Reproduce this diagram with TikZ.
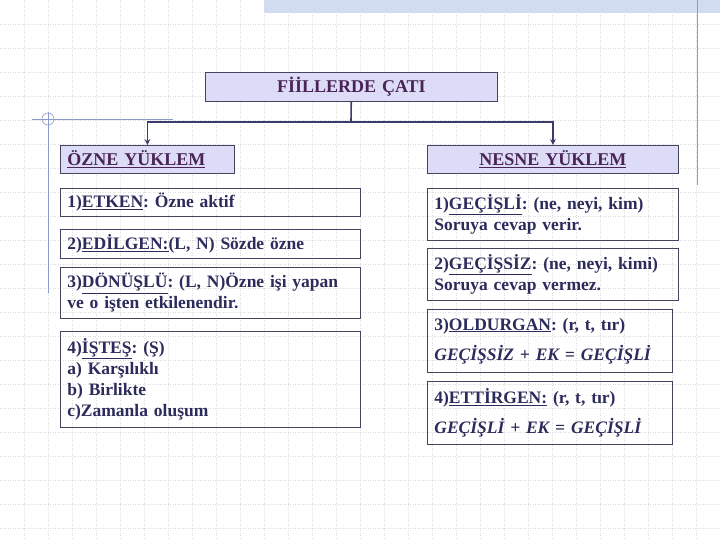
\documentclass[tikz,border=0pt]{standalone}
\usepackage{fontspec}
\setmainfont{Liberation Serif}
\usetikzlibrary{arrows, positioning, math, calc}

\definecolor{textNavy}{HTML}{2C2C5C}
\definecolor{headPurple}{HTML}{4A2456}
\definecolor{boxLine}{HTML}{44445E}
\definecolor{boxFill}{HTML}{DCDCF6}
\definecolor{linkBlue}{HTML}{3C3C6C}
\definecolor{gridGray}{HTML}{DCDCDC}
\definecolor{decoBlue}{HTML}{8C9CC8}
\definecolor{bandBlue}{HTML}{D2DCF0}

\newcommand{\undr}[1]{\underline{#1}}
\frenchspacing

\begin{document}
\begin{tikzpicture}[x=1pt,y=-1pt]
	\tikzmath{
		\leftX  = 60;  %left column x
		\rightX = 427; %right column x
		\leftW  = 300; %left box width
		\rightW = 251; %right box width
		\forkY  = 122; %y of the split line
	}
	\tikzstyle{Node} = [
		rectangle,
		draw=boxLine,
		line width=0.8pt,
		anchor=north west,
		inner xsep=7pt,
		inner ysep=0pt,
		align=left,
		text=textNavy,
		font=\bfseries\fontsize{17.5}{21}\selectfont
	]
	\tikzstyle{HeadNode} = [Node, fill=boxFill, text=headPurple, font=\bfseries\fontsize{18}{21}\selectfont]
	\tikzstyle{GridLine} = [gridGray, dotted, line width=0.5pt]
	\tikzstyle{Link}     = [linkBlue, line width=1.6pt]

	\useasboundingbox (0,0) rectangle (720,540);

	%%%%%%%%%%%%%%%%%%%%%%%%%%===---BACKGROUND---===%%%%%%%%%%%%%%%%%%%%%%%%%%
	\fill[white] (0,0) rectangle (720,540);
	\foreach \gx in {24,48,...,696} \draw[GridLine] (\gx,0) -- (\gx,540);
	\foreach \gy in {24,48,...,528} \draw[GridLine] (0,\gy) -- (720,\gy);
	\fill[bandBlue] (264,0) rectangle (720,13);
	\draw[decoBlue, line width=0.8pt] (697,0) -- (697,185);
	\draw[decoBlue, line width=0.8pt] (48,112) -- (48,293);
	\draw[decoBlue, line width=0.8pt] (32,119) -- (173,119);
	\draw[decoBlue, line width=0.6pt] (48,119) circle (6);

	%%%%%%%%%%%%%%%%%%%%%%%%%%===---TITLE---===%%%%%%%%%%%%%%%%%%%%%%%%%%
	\node (title) [HeadNode, minimum width=292pt, minimum height=29pt, text width=278pt, align=center] at (205,72) {FİİLLERDE ÇATI};
	\coordinate (fork) at (351,\forkY);

	%%%%%%%%%%%%%%%%%%%%%%%%%%===---LEFT SIDE---===%%%%%%%%%%%%%%%%%%%%%%%%%%
	\node (ozne) [HeadNode, minimum height=28pt, text width=160pt] at (\leftX,145) {\undr{ÖZNE YÜKLEM}};
	\node (etken) [Node, minimum height=28pt, text width=\leftW pt-14pt] at (\leftX,188)
		{1)\undr{ETKEN}: Özne aktif};
	\node (edilgen) [Node, minimum height=29pt, text width=\leftW pt-14pt] at (\leftX,229)
		{2)\undr{EDİLGEN:}(L, N) Sözde özne};
	\node (donuslu) [Node, minimum height=51pt, text width=\leftW pt-14pt] at (\leftX,267)
		{3)\undr{DÖNÜŞLÜ}: (L, N)Özne işi yapan\\ve o işten etkilenendir.};
	\node (istes) [Node, minimum height=96pt, text width=\leftW pt-14pt] at (\leftX,331)
		{4)\undr{İŞTEŞ}: (Ş)\\a) Karşılıklı\\b) Birlikte\\c)Zamanla oluşum};

	%%%%%%%%%%%%%%%%%%%%%%%%%%===---RIGHT SIDE---===%%%%%%%%%%%%%%%%%%%%%%%%%%
	\node (nesne) [HeadNode, minimum height=28pt, text width=\rightW pt-14pt, align=center] at (\rightX,145) {\undr{NESNE YÜKLEM}};
	\node (gecisli) [Node, minimum height=52pt, text width=\rightW pt-14pt] at (\rightX,188)
		{1)\undr{GEÇİŞLİ}: (ne, neyi, kim)\\Soruya cevap verir.};
	\node (gecissiz) [Node, minimum height=52pt, text width=\rightW pt-14pt] at (\rightX,248)
		{2)\undr{GEÇİŞSİZ}: (ne, neyi, kimi)\\Soruya cevap vermez.};
	\node (oldurgan) [Node, minimum height=63pt, text width=231pt] at (\rightX,309)
		{3)\undr{OLDURGAN}: (r, t, tır)\\[9pt]\textit{GEÇİŞSİZ + EK = GEÇİŞLİ}};
	\node (ettirgen) [Node, minimum height=63pt, text width=231pt] at (\rightX,381)
		{4)\undr{ETTİRGEN:} (r, t, tır)\\[9pt]\textit{GEÇİŞLİ + EK = GEÇİŞLİ}};

	%%%%%%%%%%%%%%%%%%%%%%%%%%===---LINKS---===%%%%%%%%%%%%%%%%%%%%%%%%%%
	\draw[Link] (title) -- (fork);
	\draw[Link, -stealth] (fork) -| (ozne);
	\draw[Link, -stealth] (fork) -| (nesne);
\end{tikzpicture}
\end{document}
